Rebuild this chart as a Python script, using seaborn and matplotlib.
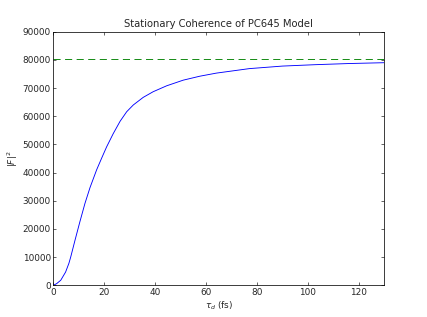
import numpy as np
import pandas as pd
import seaborn as sns
import matplotlib
matplotlib.use("Agg")
import matplotlib.pyplot as plt

# valores
tau_d = [0, 1.3, 2.9, 4.8, 6.1, 6.8, 8.5, 10.4, 12.4, 14.4, 17, 19, 20.9,
         23.5, 26.2, 28.8, 31.4, 35.3, 39.2, 44.5, 51, 57.5, 64, 77, 90,
         103, 116, 130]
coerencia = [0, 600, 1800, 4700, 7800, 10000, 16000, 22500, 29050, 34700,
             41000, 45200, 49100, 53800, 58200, 61600, 64000, 66700, 68700,
             70800, 72800, 74200, 75300, 76900, 77800, 78300, 78700, 79000]
limite = 80200

titulo = "Stationary Coherence of PC645 Model"

sns.set_style("ticks")
plt.rcParams["font.family"] = ["DejaVu Sans"]
plt.rcParams["mathtext.fontset"] = "dejavusans"
plt.rcParams["xtick.direction"] = "in"
plt.rcParams["ytick.direction"] = "in"
plt.rcParams["xtick.top"] = True
plt.rcParams["ytick.right"] = True

dpi = 53.375
fig = plt.figure(figsize=(427 / dpi, 317 / dpi), dpi=dpi)
ax = fig.add_axes([0.125, 0.1, 0.775, 0.8])

tabela = pd.DataFrame({"tau": tau_d, "F2": coerencia})
sns.lineplot(data=tabela, x="tau", y="F2", color="#0000ff", linewidth=1.2, ax=ax)
ax.axhline(limite, color="#008000", linestyle=(0, (8, 5)), linewidth=1.2)

ax.set_xlim(0, 130)
ax.set_ylim(0, 90000)
ax.set_xticks(range(0, 121, 20))
ax.set_yticks(range(0, 90001, 10000))
ax.tick_params(labelsize=12, length=4, width=0.8, color="black")
for s in ax.spines.values():
    s.set_color("black")
    s.set_linewidth(1)

ax.set_title(titulo, fontsize=13.5)
ax.set_xlabel(r"$\tau_d$ (fs)", fontsize=12)
ax.set_ylabel(r"$|F|^2$", fontsize=12)

fig.savefig("out.png", dpi=dpi)
